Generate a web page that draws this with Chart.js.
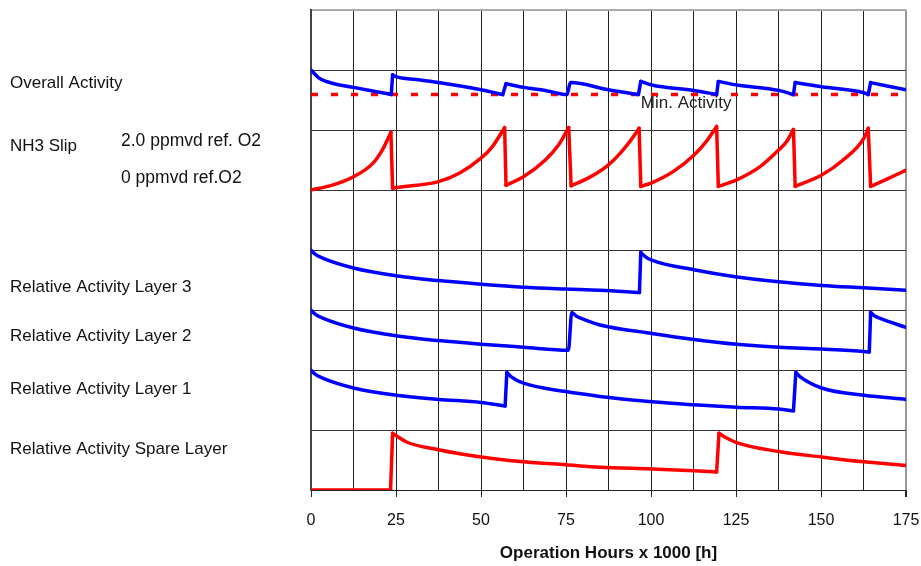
<!DOCTYPE html>
<html>
<head>
<meta charset="utf-8">
<script src="https://cdn.jsdelivr.net/npm/chart.js@4"></script>
<style>
  body { margin: 0; background: #fff; }
</style>
</head>
<body>
<canvas id="catChart" width="921" height="566"></canvas>
<script>
// x = operation hours x 1000, y = band position (each band is 1 unit high)
const xTicks = [0, 25, 50, 75, 100, 125, 150, 175];

const overallActivity = [
  [0, 7.00], [2.5, 6.86], [6.3, 6.78], [12.5, 6.71], [18.1, 6.65], [23, 6.60], [23.6, 6.59],
  [24.0, 6.92], [25, 6.89], [31, 6.84], [37.5, 6.79], [50, 6.67], [56.4, 6.59],
  [57.35, 6.77], [62.5, 6.71], [68.9, 6.66], [75.3, 6.59],
  [76.3, 6.79], [87.5, 6.67], [96.3, 6.59],
  [97, 6.81], [100.2, 6.75], [112.6, 6.66], [119.3, 6.59],
  [119.8, 6.81], [125.2, 6.75], [137.6, 6.66], [141.9, 6.59],
  [142.4, 6.79], [150.2, 6.72], [162.6, 6.62], [163.9, 6.59],
  [164.6, 6.79], [175, 6.67]
];

const minActivity = [[0, 6.59], [175, 6.59]];

const nh3Slip = [
  [0, 5.00], [6.3, 5.08], [12.5, 5.22], [18.1, 5.44], [21, 5.67], [23.5, 5.96],
  [24.0, 5.03], [25, 5.04], [37.5, 5.14], [43.6, 5.28], [50, 5.53], [53.3, 5.72], [56.95, 6.04],
  [57.35, 5.08], [62.5, 5.22], [68.9, 5.50], [72.8, 5.75], [75.8, 6.04],
  [76.5, 5.07], [81.9, 5.21], [87.5, 5.42], [90.9, 5.61], [93.8, 5.81], [96.5, 6.03],
  [97, 5.06], [100.2, 5.12], [106.6, 5.31], [112.6, 5.58], [116.3, 5.81], [119.3, 6.06],
  [119.8, 5.06], [125.2, 5.17], [132.1, 5.39], [137.6, 5.67], [139.9, 5.81], [141.9, 6.01],
  [142.4, 5.06], [150.2, 5.25], [156.5, 5.50], [162.6, 5.86], [163.9, 6.03],
  [164.6, 5.06], [169.7, 5.19], [175, 5.33]
];

const layer3 = [
  [0, 4.00], [1.2, 3.93], [3.6, 3.86], [12.5, 3.70], [25, 3.57], [37.5, 3.49], [50, 3.43],
  [62.5, 3.38], [75, 3.35], [85, 3.33], [96.6, 3.29],
  [97, 3.96], [98.3, 3.89], [100.2, 3.83], [112.6, 3.67], [125.2, 3.55], [137.6, 3.47],
  [150.2, 3.41], [162.6, 3.37], [175, 3.33]
];

const layer2 = [
  [0, 3.00], [1.2, 2.93], [3.6, 2.86], [12.5, 2.70], [25, 2.57], [37.5, 2.49], [50, 2.43],
  [62.5, 2.38], [75.7, 2.33],
  [76.7, 2.96], [78, 2.90], [79.5, 2.86], [85, 2.75], [100.2, 2.61], [112.6, 2.51], [125.2, 2.43],
  [137.6, 2.38], [150.2, 2.35], [162.6, 2.31], [164.2, 2.30],
  [164.6, 2.96], [165.8, 2.90], [167.4, 2.86], [175, 2.71]
];

const layer1 = [
  [0, 2.00], [1.2, 1.93], [3.6, 1.86], [12.5, 1.70], [25, 1.58], [37.5, 1.51], [50, 1.46], [57.1, 1.40],
  [57.6, 1.96], [58.8, 1.89], [62.5, 1.78], [75, 1.64], [85, 1.56], [100.2, 1.47], [112.6, 1.42],
  [125.2, 1.38], [137.6, 1.35], [141.9, 1.32],
  [142.6, 1.96], [143.8, 1.89], [150.2, 1.70], [162.6, 1.58], [175, 1.51]
];

const spareLayer = [
  [0, 0], [23.4, 0],
  [24, 0.945], [25.2, 0.90], [28.1, 0.80], [37.5, 0.67], [50, 0.55], [62.5, 0.47], [75, 0.42],
  [85, 0.38], [100.2, 0.35], [112.6, 0.32], [119.3, 0.30],
  [120, 0.945], [121.2, 0.90], [125.2, 0.79], [137.6, 0.64], [150.2, 0.55], [162.6, 0.47], [175, 0.41]
];

// row captions: [text, x px, y band value, font size]
const rowLabels = [
  ['Overall Activity', 10, 6.78, 17],
  ['NH3 Slip', 10, 5.73, 17],
  ['2.0 ppmvd ref. O2', 121, 5.81, 17.5],
  ['0 ppmvd ref.O2', 121, 5.20, 17.5],
  ['Relative Activity Layer 3', 10, 3.37, 17],
  ['Relative Activity Layer 2', 10, 2.56, 17],
  ['Relative Activity Layer 1', 10, 1.67, 17],
  ['Relative Activity Spare Layer', 10, 0.67, 17]
];
const minLabel = ['Min. Activity', 97, 6.44];

const FONT = "'Liberation Sans', Arial, sans-serif";
const BLUE = '#0000ff';
const RED = '#ff0000';

// a jump is two neighbouring points less than 1 unit apart on x
function splitRuns(arr) {
  const runs = [[arr[0]]];
  const jumps = [];
  for (let i = 1; i < arr.length; i++) {
    if (arr[i][0] - arr[i - 1][0] < 1) {
      jumps.push({ x: arr[i - 1][0], y: arr[i - 1][1] }, { x: arr[i][0], y: arr[i][1] },
        { x: (arr[i][0] + arr[i - 1][0]) / 2, y: null });
      runs.push([arr[i]]);
    } else {
      runs[runs.length - 1].push(arr[i]);
    }
  }
  return { runs, jumps };
}

const base = {
  borderWidth: 3.5,
  pointRadius: 0,
  fill: false,
  borderCapStyle: 'round',
  borderJoinStyle: 'round'
};

function series(label, arr, color) {
  const parts = splitRuns(arr);
  const sets = parts.runs.map(r => Object.assign({}, base, {
    label: label,
    data: r.map(p => ({ x: p[0], y: p[1] })),
    borderColor: color,
    cubicInterpolationMode: 'monotone'
  }));
  if (parts.jumps.length) {
    sets.push(Object.assign({}, base, {
      label: label,
      data: parts.jumps,
      borderColor: color,
      tension: 0,
      spanGaps: false
    }));
  }
  return sets;
}

const labelPlugin = {
  id: 'rowLabels',
  afterDraw(chart) {
    const c = chart.ctx;
    const ys = chart.scales.y;
    const xs = chart.scales.x;
    c.save();
    c.fillStyle = '#111';
    c.textBaseline = 'middle';
    c.textAlign = 'left';
    rowLabels.forEach(l => {
      c.font = l[3] + 'px ' + FONT;
      c.fillText(l[0], l[1], ys.getPixelForValue(l[2]));
    });
    c.font = '17px ' + FONT;
    c.fillStyle = '#222';
    c.fillText(minLabel[0], xs.getPixelForValue(minLabel[1]), ys.getPixelForValue(minLabel[2]));
    c.restore();
  }
};

new Chart(document.getElementById('catChart'), {
  type: 'line',
  data: {
    datasets: [].concat(
      series('Overall Activity', overallActivity, BLUE),
      [Object.assign({}, base, {
        label: 'Min. Activity',
        data: minActivity.map(p => ({ x: p[0], y: p[1] })),
        borderColor: RED,
        borderCapStyle: 'butt',
        borderDash: [7, 13],
        tension: 0
      })],
      series('NH3 Slip', nh3Slip, RED),
      series('Relative Activity Layer 3', layer3, BLUE),
      series('Relative Activity Layer 2', layer2, BLUE),
      series('Relative Activity Layer 1', layer1, BLUE),
      series('Relative Activity Spare Layer', spareLayer, RED)
    )
  },
  options: {
    responsive: false,
    animation: false,
    layout: { padding: { left: 311, right: 15, top: 10, bottom: 1.4 } },
    plugins: {
      legend: { display: false },
      tooltip: { enabled: false }
    },
    scales: {
      x: {
        type: 'linear',
        min: 0,
        max: 175,
        afterBuildTicks: axis => {
          const t = [];
          for (let i = 0; i <= 14; i++) t.push({ value: i * 12.5 });
          axis.ticks = t;
        },
        afterFit: axis => {
          // let the last label hang over the right edge as in the original
          axis.paddingRight = 0;
        },
        ticks: {
          autoSkip: false,
          maxRotation: 0,
          padding: 14,
          color: '#111',
          font: { family: FONT, size: 16 },
          callback: v => (xTicks.includes(v) ? String(v) : '')
        },
        grid: {
          color: ctx => (ctx.tick && ctx.tick.value === 175 ? '#999' : '#222'),
          lineWidth: ctx => (ctx.tick && ctx.tick.value === 175 ? 2 : 1),
          tickLength: 7,
          tickColor: ctx => (ctx.tick && xTicks.includes(ctx.tick.value) ? '#222' : 'rgba(0,0,0,0)')
        },
        border: { color: '#222', width: 1 },
        title: {
          display: true,
          text: 'Operation Hours x 1000 [h]',
          color: '#111',
          font: { family: FONT, size: 17, weight: 'bold' },
          padding: { top: -1, bottom: 1 }
        }
      },
      y: {
        min: 0,
        max: 8,
        ticks: { display: false, stepSize: 1 },
        grid: {
          drawTicks: false,
          color: ctx => (ctx.tick && ctx.tick.value === 8 ? '#aaa' : '#333'),
          lineWidth: ctx => (ctx.tick && ctx.tick.value === 8 ? 2 : 1)
        },
        border: { color: '#444', width: 2 }
      }
    }
  },
  plugins: [labelPlugin]
});
</script>
</body>
</html>
